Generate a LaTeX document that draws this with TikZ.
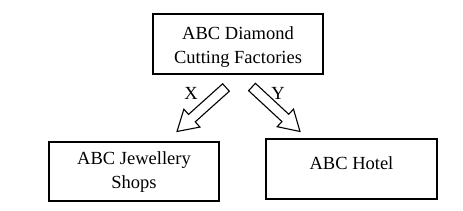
\documentclass[tikz,border=0pt]{standalone}
\usepackage{fontspec}
\setmainfont{Liberation Serif}
\usetikzlibrary{calc}
\tikzset{
  box/.style={draw, line width=1.1pt, minimum width=#1, minimum height=60pt, inner sep=0pt},
  txt/.style={font=\fontsize{18.5}{24}\selectfont, align=center, inner sep=0pt},
  blk/.style={draw, line width=1.1pt, line join=miter, fill=white}
}
\newcommand\blockarrow[2]{%
  \draw[blk] ($(#1)!5pt!90:(#2)$) -- ($($(#2)!20pt!(#1)$)!5pt!-90:(#1)$)
    -- ($($(#2)!20pt!(#1)$)!12pt!-90:(#1)$) -- (#2)
    -- ($($(#2)!20pt!(#1)$)!12pt!90:(#1)$)
    -- ($($(#2)!20pt!(#1)$)!5pt!90:(#1)$) -- ($(#1)!5pt!-90:(#2)$) -- cycle;}
\begin{document}
\begin{tikzpicture}[x=1pt,y=-1pt]
\useasboundingbox (0,0) rectangle (463,211);
\node[box=170pt] (top) at (238,44) {};
\node[box=170pt, minimum height=59pt] (left) at (134,171.5) {};
\node[box=171pt] (right) at (351.5,169) {};
\node[txt, anchor=base] (toptxt) at (238,63.3) {ABC Diamond\\Cutting Factories};
\node[txt, anchor=base] (lefttxt) at (134,188) {ABC Jewellery\\Shops};
\node[txt, anchor=base] (righttxt) at (351.5,169) {ABC Hotel};
\coordinate (ltail) at (226,87.5);
\coordinate (ltip) at (177,131.5);
\coordinate (rtail) at (252,87);
\coordinate (rtip) at (300,131.5);
\blockarrow{ltail}{ltip}
\blockarrow{rtail}{rtip}
\node[txt, anchor=base] (X) at (191,100) {X};
\node[txt, anchor=base] (Y) at (278,100) {Y};
\end{tikzpicture}
\end{document}
